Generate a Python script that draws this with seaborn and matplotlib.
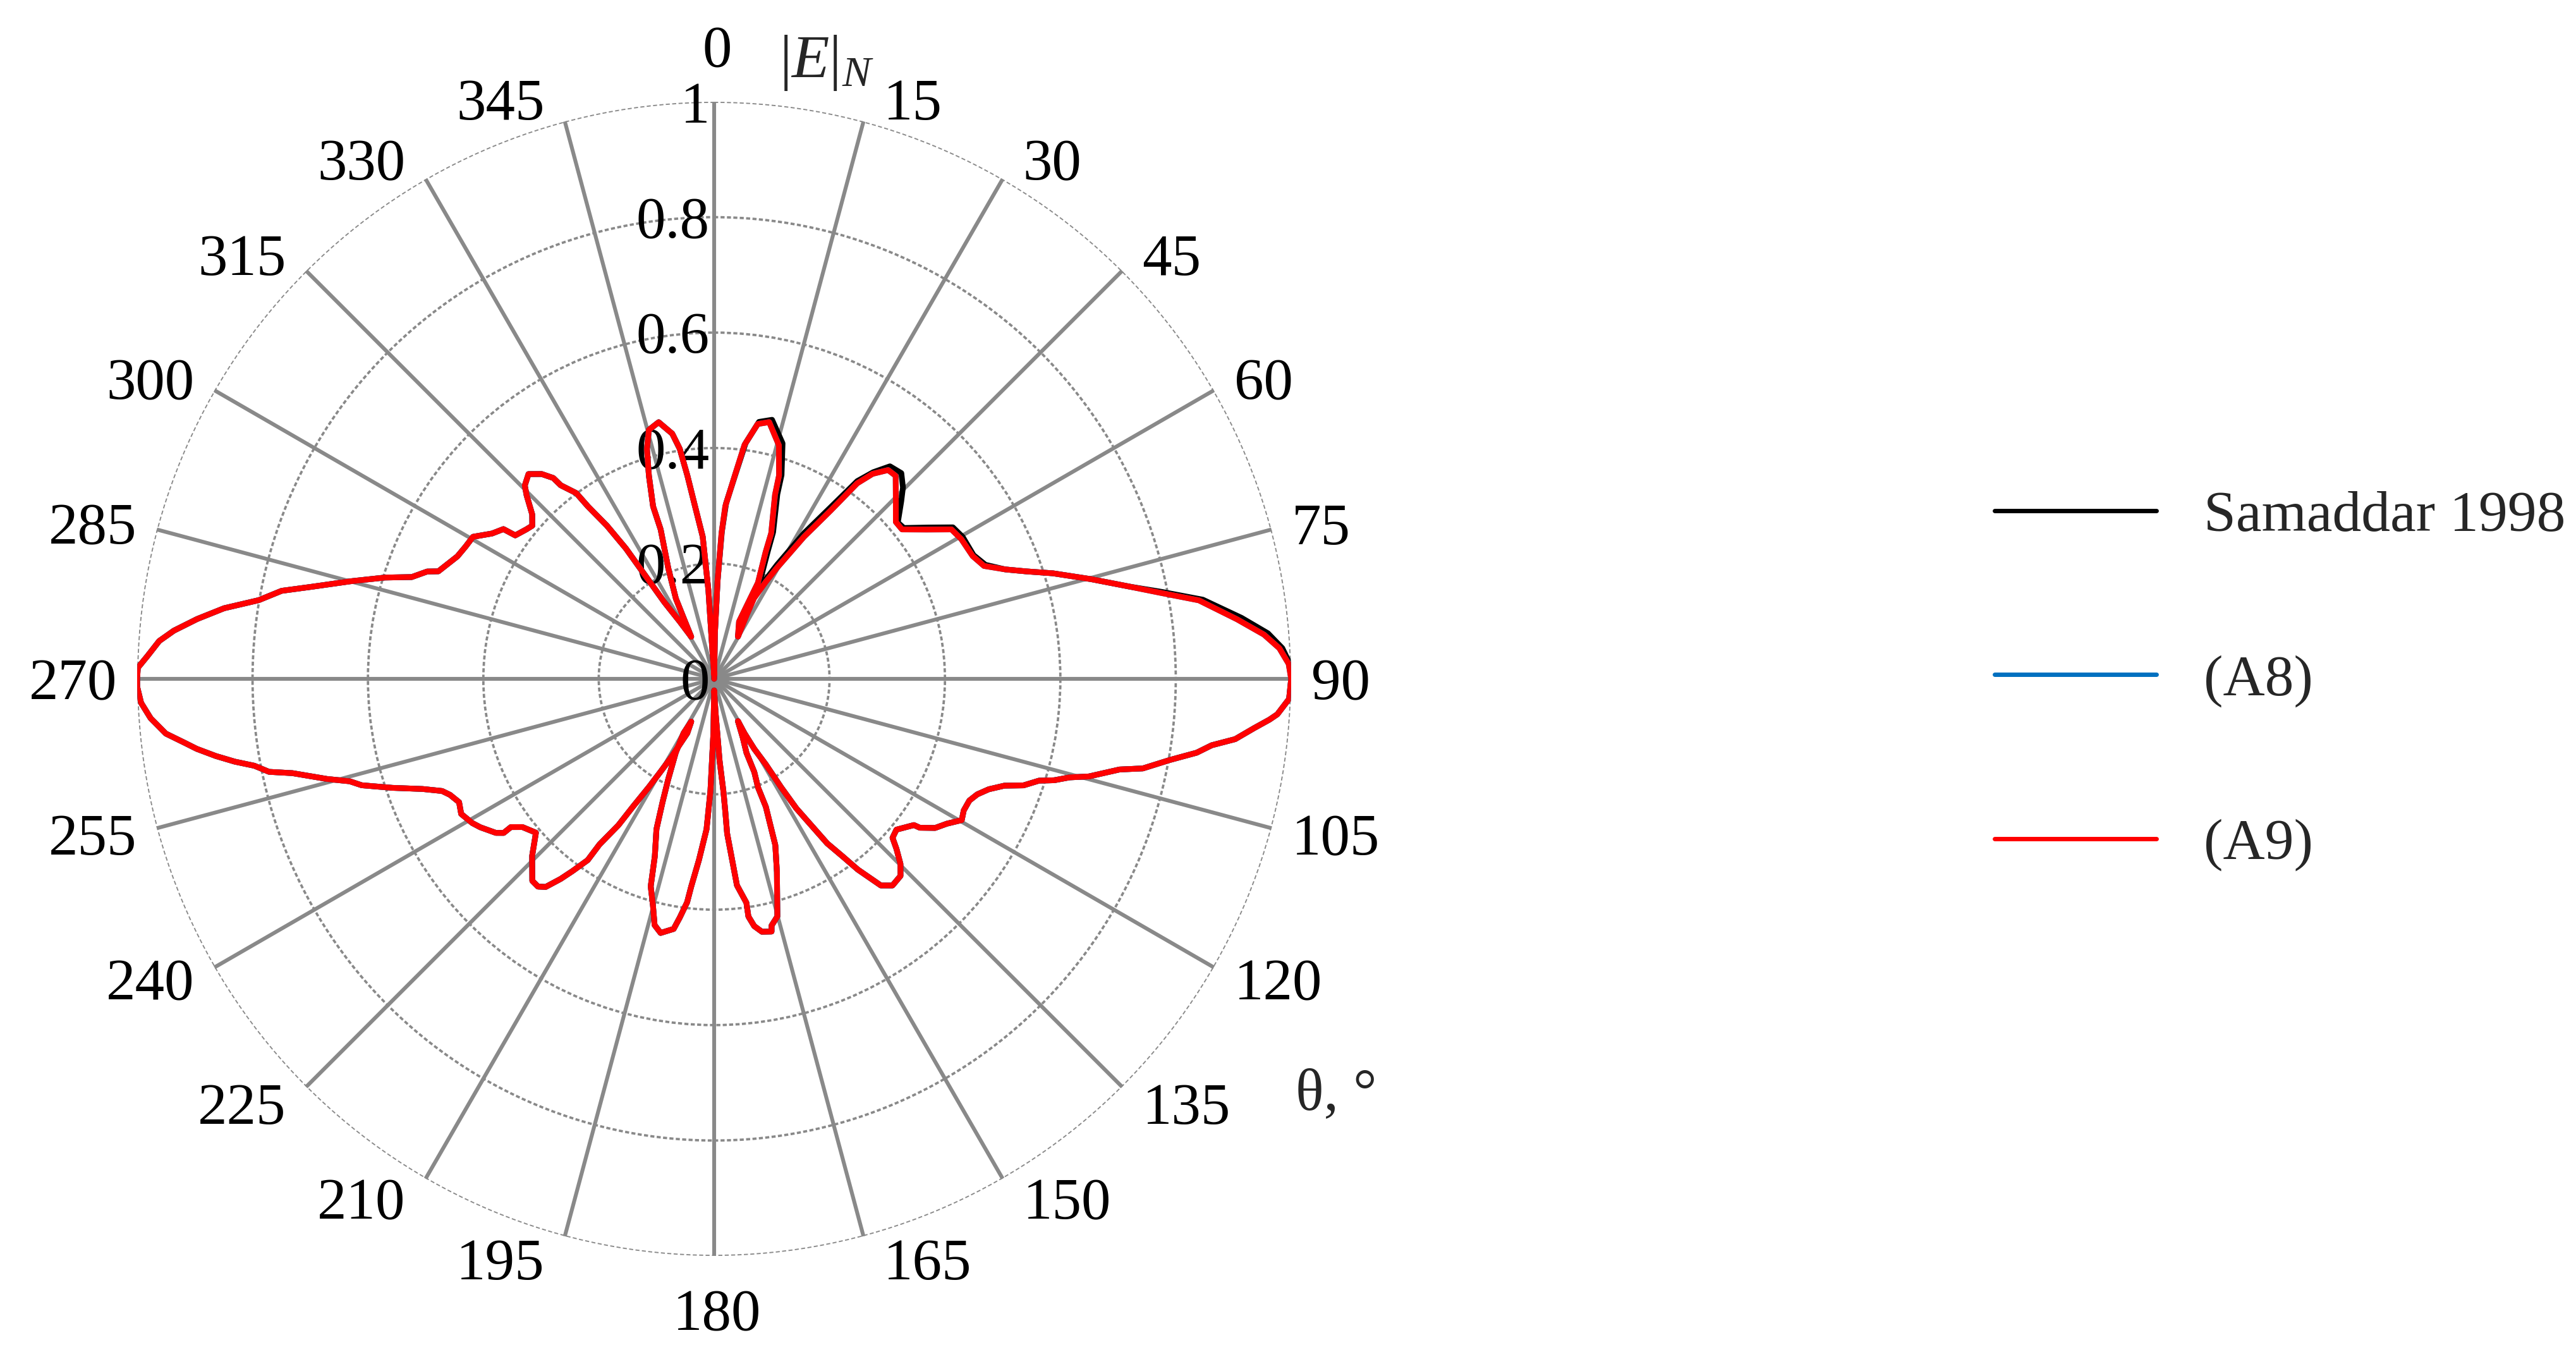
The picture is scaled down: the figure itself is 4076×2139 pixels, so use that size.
import numpy as np
import pandas as pd
import seaborn as sns
import matplotlib
matplotlib.use("Agg")
import matplotlib.pyplot as plt
from matplotlib.lines import Line2D
from matplotlib.transforms import offset_copy

# Radiation pattern |E|_N, quadrant by quadrant,
# in the order the curve runs (angle in degrees, clockwise from top).

# (A9) / (A8): 0..90
a9_q1_deg = [0, 1.0, 2.0, 2.9, 3.7, 5.8, 7.4, 9.7, 12.1, 15.5, 17.7, 18.3, 21.4, 22.1,
             24.5, 24.0, 23.5, 29.4, 27.0, 26.3, 28.0, 29.5, 32.3, 34.7, 36.2, 37.7,
             39.8, 41.8, 45.3, 49.2, 51.5, 54.9, 57.8, 60.5, 64.6, 67.3, 69.4, 71.0,
             72.7, 75.2, 77.5, 79.1, 80.8, 83.5, 85.4, 86.9, 88.5, 90]
a9_q1_r = [0.0, 0.08, 0.17, 0.253, 0.300, 0.354, 0.409, 0.448, 0.455, 0.420, 0.370,
           0.336, 0.271, 0.237, 0.183, 0.138, 0.108, 0.084, 0.125, 0.156, 0.190, 0.221,
           0.291, 0.355, 0.420, 0.449, 0.471, 0.472, 0.443, 0.416, 0.416, 0.450, 0.486,
           0.492, 0.496, 0.507, 0.539, 0.572, 0.615, 0.676, 0.738, 0.788, 0.851, 0.912,
           0.956, 0.981, 0.996, 1.0]

# 90..180
a9_q2_deg = [92.0, 93.6, 94.2, 95.2, 96.6, 97.6, 98.7, 100.1, 101.8, 102.6, 104.6, 105.5,
             106.6, 107.4, 109.0, 110.2, 111.9, 113.7, 115.5, 117.8, 119.7, 121.9, 124.0,
             125.9, 126.2, 128.1, 129.6, 131.7, 133.0, 134.8, 136.6, 139.2, 141.1, 143.0,
             144.1, 145.5, 146.4, 147.6, 148.3, 148.9, 150.2, 150.9, 150.6, 154.0, 156.4,
             156.7, 158.0, 158.0, 159.2, 159.8, 162.0, 165.1, 166.9, 167.2, 169.3, 170.8,
             171.8, 171.8, 173.7, 174.2, 175.2, 175.2, 175.3, 176.2, 177.5, 180.0]
a9_q2_r = [0.997, 0.978, 0.965, 0.940, 0.909, 0.870, 0.846, 0.802, 0.759, 0.720, 0.671,
           0.639, 0.615, 0.590, 0.567, 0.536, 0.513, 0.498, 0.490, 0.489, 0.494, 0.475,
           0.462, 0.440, 0.429, 0.418, 0.410, 0.414, 0.432, 0.455, 0.470, 0.473, 0.460,
           0.414, 0.380, 0.346, 0.306, 0.266, 0.221, 0.173, 0.140, 0.108, 0.084, 0.113,
           0.140, 0.176, 0.203, 0.239, 0.280, 0.307, 0.352, 0.426, 0.439, 0.449, 0.446,
           0.434, 0.416, 0.392, 0.360, 0.323, 0.269, 0.229, 0.195, 0.142, 0.061, 0.02]

# 180..270
a9_q3_deg = [180.8, 181.9, 182.9, 184.8, 186.3, 186.9, 188.2, 189.2, 191.9, 193.6, 195.1,
             197.0, 198.5, 201.0, 202.7, 204.6, 207.5, 209.4, 208.2, 206.3, 207.7, 208.6,
             210.0, 211.1, 212.4, 213.2, 214.7, 214.9, 216.4, 217.5, 219.0, 220.3, 222.0,
             225.8, 229.2, 232.3, 233.9, 233.8, 234.8, 237.6, 239.2, 241.9, 244.2, 246.3,
             247.6, 249.3, 251.3, 253.2, 254.3, 255.5, 257.4, 258.2, 259.3, 260.2, 261.2,
             262.3, 263.1, 264.3, 266.0, 267.6, 269.2, 270.0]
a9_q3_r = [0.094, 0.194, 0.261, 0.315, 0.362, 0.390, 0.418, 0.439, 0.450, 0.439, 0.407,
           0.376, 0.324, 0.279, 0.232, 0.191, 0.144, 0.108, 0.084, 0.105, 0.129, 0.153,
           0.186, 0.219, 0.261, 0.303, 0.349, 0.383, 0.414, 0.437, 0.464, 0.472, 0.471,
           0.440, 0.408, 0.420, 0.436, 0.452, 0.463, 0.480, 0.488, 0.497, 0.491, 0.500,
           0.510, 0.540, 0.589, 0.638, 0.656, 0.693, 0.749, 0.788, 0.811, 0.843, 0.874,
           0.905, 0.924, 0.955, 0.979, 0.994, 1.0, 1.0]

# 270..360
a9_q4_deg = [271.1, 272.3, 273.9, 275.1, 276.6, 278.2, 279.8, 281.5, 282.9, 285.0, 287.1,
             288.6, 290.5, 291.3, 295.5, 298.0, 300.5, 303.2, 305.4, 305.8, 308.5, 310.1,
             312.1, 314.4, 315.6, 317.8, 319.9, 321.3, 321.6, 323.4, 323.8, 325.0, 325.9,
             326.3, 327.0, 329.0, 331.4, 333.4, 334.5, 337.5, 340.3, 340.5, 342.2, 343.7,
             345.3, 347.8, 350.3, 351.5, 352.5, 353.7, 355.4, 356.3, 356.4, 360.0]
a9_q4_r = [0.999, 0.983, 0.964, 0.940, 0.902, 0.858, 0.801, 0.765, 0.715, 0.653, 0.597,
           0.553, 0.531, 0.513, 0.493, 0.488, 0.485, 0.460, 0.448, 0.425, 0.416, 0.412,
           0.425, 0.455, 0.469, 0.479, 0.464, 0.446, 0.428, 0.401, 0.370, 0.324, 0.273,
           0.215, 0.158, 0.116, 0.083, 0.119, 0.154, 0.208, 0.275, 0.317, 0.370, 0.415,
           0.446, 0.455, 0.431, 0.403, 0.355, 0.300, 0.247, 0.153, 0.053, 0.007]

# Samaddar 1998 differs visibly only in the first quadrant
sam_q1_deg = [0, 1.0, 2.0, 3.0, 3.9, 6.0, 7.6, 9.9, 12.6, 16.2, 18.3, 18.9, 21.9, 22.8,
              25.2, 24.5, 24.0, 29.4, 26.5, 25.8, 27.4, 28.9, 31.7, 34.2, 35.9, 37.6,
              39.6, 42.3, 44.6, 46.5, 49.6, 51.5, 54.8, 57.6, 60.3, 64.5, 67.2, 69.4,
              71.0, 72.7, 75.2, 77.5, 79.0, 80.8, 83.4, 85.3, 86.9, 88.5, 90]
sam_q1_r = [0.0, 0.08, 0.17, 0.255, 0.305, 0.358, 0.412, 0.452, 0.460, 0.425, 0.372,
            0.338, 0.274, 0.240, 0.186, 0.140, 0.110, 0.084, 0.125, 0.158, 0.193, 0.226,
            0.297, 0.360, 0.423, 0.452, 0.478, 0.482, 0.466, 0.447, 0.418, 0.420, 0.455,
            0.490, 0.496, 0.498, 0.510, 0.539, 0.572, 0.615, 0.676, 0.738, 0.790, 0.858,
            0.920, 0.963, 0.986, 0.998, 1.0]

series_names = ["Samaddar 1998", "(A8)", "(A9)"]
series_colors = ["#000000", "#0070C0", "#FF0000"]

angle_ticks = list(range(0, 360, 15))
r_ticks = [0, 0.2, 0.4, 0.6, 0.8, 1.0]
r_tick_labels = ["0", "0.2", "0.4", "0.6", "0.8", "1"]

# ---- assemble one long table for seaborn ----
a9_deg = a9_q1_deg + a9_q2_deg + a9_q3_deg + a9_q4_deg
a9_r = a9_q1_r + a9_q2_r + a9_q3_r + a9_q4_r
sam_deg = sam_q1_deg + a9_q2_deg + a9_q3_deg + a9_q4_deg
sam_r = sam_q1_r + a9_q2_r + a9_q3_r + a9_q4_r

frames = []
for name, deg, r in [(series_names[0], sam_deg, sam_r),
                     (series_names[1], a9_deg, a9_r),
                     (series_names[2], a9_deg, a9_r)]:
    frames.append(pd.DataFrame({"theta": np.deg2rad(deg), "r": r, "series": name}))
df = pd.concat(frames, ignore_index=True)

sns.set_theme(style="white")
plt.rcParams["font.family"] = ["Liberation Serif", "DejaVu Serif"]
plt.rcParams["mathtext.fontset"] = "custom"
plt.rcParams["mathtext.rm"] = "Liberation Serif"
plt.rcParams["mathtext.it"] = "Liberation Serif:italic"

W, H = 4076, 2139
fig = plt.figure(figsize=(W / 100, H / 100), dpi=100)
fig.patch.set_facecolor("white")

# polar area: centre (1130, 1074) px, radius 913 px
cx, cy, R = 1130, 1074, 913
ax = fig.add_axes([(cx - R) / W, 1 - (cy + R) / H, 2 * R / W, 2 * R / H],
                  projection="polar")
ax.set_facecolor("white")

grid_gray = "#898989"
ax.set_theta_zero_location("N")
ax.set_theta_direction(-1)
ax.set_xticks(np.deg2rad(angle_ticks))
ax.set_yticks([0.2, 0.4, 0.6, 0.8, 1.0])
ax.set_xticklabels([])
ax.set_yticklabels([])
ax.tick_params(length=0)
ax.xaxis.grid(True, color=grid_gray, lw=4.4, ls="-")
ax.yaxis.grid(True, color=grid_gray, lw=2.7, ls=(0, (1.7, 1.0)))
ax.spines["polar"].set_visible(False)
ax.set_axisbelow(True)

sns.lineplot(data=df, x="theta", y="r", hue="series", hue_order=series_names,
             palette=dict(zip(series_names, series_colors)), sort=False,
             estimator=None, legend=False, lw=6.5, ax=ax)
ax.set_xlabel("")
ax.set_ylabel("")
ax.set_ylim(0, 1)

fs = 67
# angle labels round the rim
for deg in angle_ticks:
    t = np.deg2rad(deg)
    x, y = np.sin(t), np.cos(t)
    if deg == 0:
        x, y, ha = 0.005, 1.097, "center"
    elif deg == 180:
        x, y, ha = 0.005, -1.093, "center"
    elif deg < 180:
        x, y, ha = x + 0.035, y + 0.04 * np.cos(t), "left"
    else:
        x, y, ha = x - 0.035, y + 0.04 * np.cos(t), "right"
    ax.text(np.arctan2(x, y), np.hypot(x, y), str(deg), ha=ha, va="center_baseline",
            fontsize=fs, color="black")

# radial labels along the 0 degree spoke (curves are drawn over them)
rad_trans = offset_copy(ax.transData, fig=fig, x=-7, y=0, units="dots")
for rv, lab in zip(r_ticks, r_tick_labels):
    ax.text(0, rv, lab, transform=rad_trans, ha="right", va="center_baseline",
            fontsize=fs, color="black", zorder=1.8)

fig.text(1233 / W, 1 - 123 / H, r"$|E|_N$", ha="left", va="baseline", fontsize=70)
fig.text(2050 / W, 1 - 1755 / H, "θ, °", ha="left", va="baseline", fontsize=fs)

handles = [Line2D([], [], color=c, lw=5) for c in series_colors]
fig.legend(handles, series_names, loc="center left",
           bbox_to_anchor=(3156 / W, 1 - 1077 / H), frameon=False,
           prop={"family": "Liberation Serif", "size": 66},
           handlelength=2.79, handletextpad=0.82, labelspacing=1.92,
           borderpad=0, borderaxespad=0)

fig.savefig("out.png", dpi=100)
